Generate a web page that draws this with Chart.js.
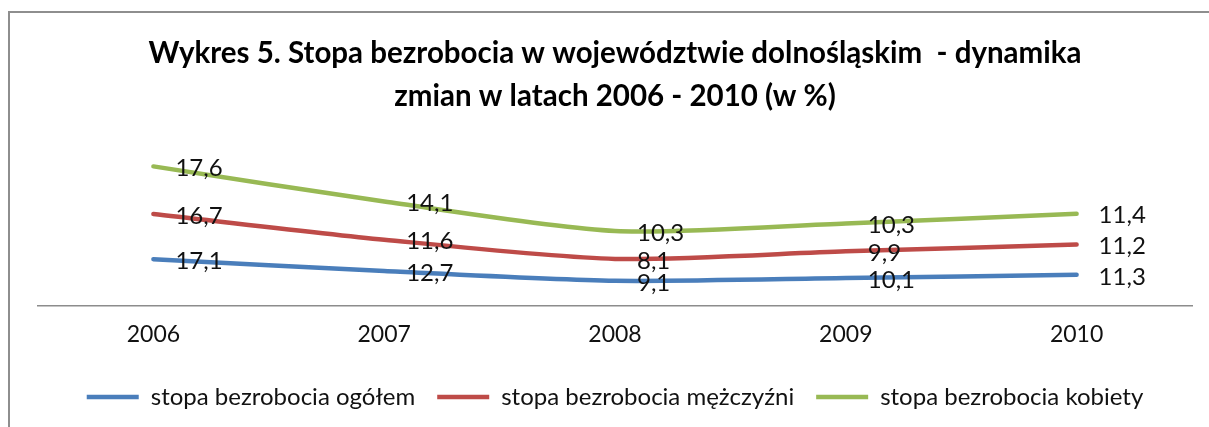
<!DOCTYPE html>
<html>
<head>
<meta charset="utf-8">
<script src="https://cdn.jsdelivr.net/npm/chart.js@4.4.1/dist/chart.umd.min.js"></script>
<style>
  body { margin: 0; background: #fff; overflow: hidden; }
  #frame { position: absolute; left: 8px; top: 11px; width: 1240px; height: 440px; border: 2px solid #8e8e8e; }
  #wrap { position: absolute; left: 0; top: 0; width: 1209px; height: 427px; }
</style>
</head>
<body>
<div id="frame"></div>
<div id="wrap"><canvas id="chart" width="1209" height="427"></canvas></div>
<script>
const years = ["2006", "2007", "2008", "2009", "2010"];
const ogolem = [17.1, 12.7, 9.1, 10.1, 11.3];
const mezczyzni = [16.7, 11.6, 8.1, 9.9, 11.2];
const kobiety = [17.6, 14.1, 10.3, 10.3, 11.4];

const fmt = v => String(v).replace(".", ",");

// Excel-style labels to the right of each point
const pointLabels = {
  id: "pointLabels",
  afterDatasetsDraw(chart) {
    const ctx = chart.ctx;
    ctx.save();
    ctx.font = "24px Lato";
    ctx.fillStyle = "#111";
    ctx.textAlign = "left";
    ctx.textBaseline = "middle";
    chart.data.datasets.forEach((ds, i) => {
      const meta = chart.getDatasetMeta(i);
      meta.data.forEach((pt, j) => {
        ctx.fillText(fmt(ds.data[j]), pt.x + 22, pt.y + 2);
      });
    });
    ctx.restore();
  }
};

new Chart(document.getElementById("chart"), {
  type: "line",
  data: {
    labels: years,
    datasets: [
      { label: "stopa bezrobocia ogółem", data: ogolem, borderColor: "#4a7ebb", backgroundColor: "#4a7ebb", borderWidth: 4.5 },
      { label: "stopa bezrobocia mężczyźni", data: mezczyzni, borderColor: "#be4b48", backgroundColor: "#be4b48", borderWidth: 4.5 },
      { label: "stopa bezrobocia kobiety", data: kobiety, borderColor: "#98b954", backgroundColor: "#98b954", borderWidth: 4.5 },
    ],
  },
  options: {
    responsive: false,
    animation: false,
    layout: { padding: { left: 38, right: 17, top: 0, bottom: 8 } },
    elements: {
      line: { tension: 0.25, borderCapStyle: "round", fill: false },
      point: { radius: 0 },
    },
    scales: {
      x: {
        offset: true,
        grid: { display: false, drawTicks: false },
        border: { display: true, color: "#8c8c8c", width: 1.5 },
        ticks: { color: "#111", font: { family: "Lato", size: 23 }, padding: 15 },
      },
      y: {
        display: false,
        stacked: true,
        min: 0,
        max: 60,
      },
    },
    plugins: {
      title: {
        display: true,
        text: ["Wykres 5. Stopa bezrobocia w województwie dolnośląskim  - dynamika", "zmian w latach 2006 - 2010 (w %)"],
        color: "#000",
        font: { family: "Lato", size: 29.5, weight: "bold", lineHeight: 1.46 },
        padding: { top: 32, bottom: 25 },
      },
      legend: {
        position: "bottom",
        labels: {
          color: "#111",
          font: { family: "Lato", size: 24 },
          usePointStyle: true,
          pointStyle: "line",
          pointStyleWidth: 52,
          padding: 22,
        },
      },
      tooltip: { enabled: false },
    },
  },
  plugins: [pointLabels],
});
</script>
</body>
</html>
